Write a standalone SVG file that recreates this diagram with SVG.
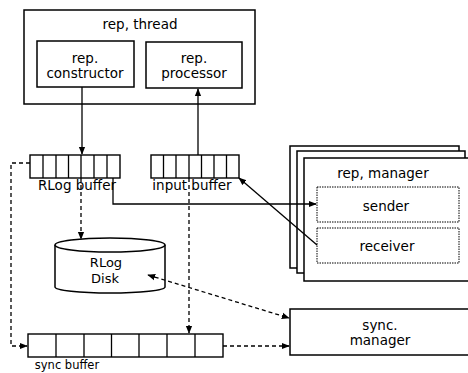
<svg xmlns="http://www.w3.org/2000/svg" width="468" height="373" viewBox="0 0 468 373">
<style>
.box{fill:#fff;stroke:#000;stroke-width:1.5}
.dot{fill:#fff;stroke:#000;stroke-width:1;stroke-dasharray:1.5 1}
.cell{fill:#fff;stroke:#000;stroke-width:1.4}
text{font-family:"DejaVu Sans",sans-serif;font-size:13.5px;fill:#000;text-anchor:middle}
.sl{fill:none;stroke:#000;stroke-width:1.3}
.dl{fill:none;stroke:#000;stroke-width:1.3;stroke-dasharray:4 3}
</style>
<defs>
<marker id="ah" viewBox="0 0 10 10" refX="9" refY="5" markerWidth="8" markerHeight="8" orient="auto-start-reverse" markerUnits="userSpaceOnUse">
<path d="M0,1 L10,5 L0,9 z" fill="#000"/>
</marker>
</defs>
<rect width="468" height="373" fill="#fff"/>

<g id="rep-thread">
<rect class="box" x="24" y="10" width="231" height="94"/>
<text x="140" y="29">rep, thread</text>
</g>
<g id="rep-constructor">
<rect class="box" x="37" y="41" width="97" height="46"/>
<text x="85" y="63">rep.</text>
<text x="85" y="78">constructor</text>
</g>
<g id="rep-processor">
<rect class="box" x="146" y="42" width="96" height="46"/>
<text x="194" y="63">rep.</text>
<text x="194" y="78">processor</text>
</g>

<g id="rlog-buffer">
<rect class="cell" x="30" y="155" width="90" height="23"/>
<path class="sl" d="M43 155V178M56 155V178M68.5 155V178M81 155V178M94 155V178M107 155V178"/>
<text x="77" y="190">RLog buffer</text>
</g>
<g id="input-buffer">
<rect class="cell" x="151" y="155" width="88" height="23"/>
<path class="sl" d="M163.5 155V178M176 155V178M189 155V178M201.5 155V178M214 155V178M226.5 155V178"/>
<text x="192" y="190">input buffer</text>
</g>

<g id="rep-manager">
<rect class="box" x="290" y="146" width="169" height="122"/>
<rect class="box" x="297" y="151" width="168" height="122"/>
<rect class="box" x="304" y="158" width="170" height="123"/>
<text x="383" y="178">rep, manager</text>
</g>
<g id="sender">
<rect class="dot" x="317" y="187" width="142" height="35"/>
<text x="386" y="211">sender</text>
</g>
<g id="receiver">
<rect class="dot" x="317" y="228" width="142" height="35"/>
<text x="387" y="251">receiver</text>
</g>

<g id="rlog-disk">
<path class="box" d="M55 245 V287 A55 6 0 0 0 165 287 V245"/>
<ellipse class="box" cx="110" cy="245" rx="55" ry="7"/>
<text x="106" y="267" style="font-size:13px">RLog</text>
<text x="105" y="283" style="font-size:13px">Disk</text>
</g>

<g id="sync-buffer">
<rect class="cell" x="28" y="334" width="195" height="23"/>
<path class="sl" d="M56 334V357M84 334V357M111.5 334V357M139 334V357M167 334V357M195 334V357"/>
<text x="67" y="369" style="font-size:11.5px">sync buffer</text>
</g>

<g id="sync-manager">
<rect class="box" x="290" y="309" width="180" height="46"/>
<text x="380" y="330">sync.</text>
<text x="380" y="345">manager</text>
</g>

<g id="connectors">
<path class="sl" d="M82 87V154" marker-end="url(#ah)"/>
<path class="sl" d="M198 155V89" marker-end="url(#ah)"/>
<path class="sl" d="M113 178V204H316" marker-end="url(#ah)"/>
<path class="sl" d="M317 245L239 178" marker-end="url(#ah)"/>
<path class="dl" d="M81 178V239" marker-end="url(#ah)"/>
<path class="dl" d="M30 163H11V346H27" marker-end="url(#ah)"/>
<path class="dl" d="M189 178V333" marker-end="url(#ah)"/>
<path class="dl" d="M223 346H289" marker-end="url(#ah)"/>
<path class="dl" d="M148 275L289 318" marker-start="url(#ah)" marker-end="url(#ah)"/>
</g>
</svg>
